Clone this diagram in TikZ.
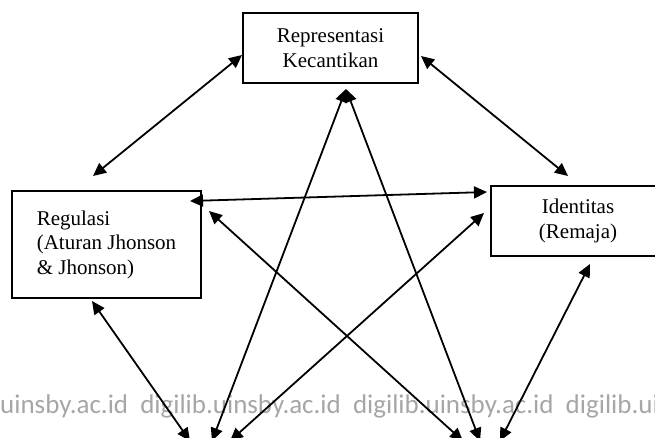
\documentclass[tikz,border=0pt]{standalone}
\usepackage{fontspec}
\setmainfont{Liberation Serif}
\newfontfamily\wmfont{Carlito}
\usepackage{xcolor}
\usepackage{tikz}
\usetikzlibrary{arrows.meta,calc}

\begin{document}
\begin{tikzpicture}[x=1pt, y=-1pt, font=\fontsize{21}{24.5}\selectfont,
  box/.style={draw=black, line width=2pt, fill=white, align=center, inner sep=0pt},
  arr/.style={{Triangle[length=13pt,width=12pt]}-{Triangle[length=13pt,width=12pt]}, line width=1.8pt},
  wm/.style={text=gray!70, font=\wmfont\fontsize{27}{30}\selectfont, inner sep=0pt}]
\useasboundingbox (0,0) rectangle (655,437);
\node[wm, anchor=base west] (wmk) at (0,413) {uinsby.ac.id\ \ digilib.uinsby.ac.id\ \ digilib.uinsby.ac.id\ \ digilib.ui};
\node[box, minimum width=175pt, minimum height=70pt] (rep) at (330.5,48) {Representasi\\Kecantikan};
\node[box, minimum width=189pt, minimum height=107pt, align=left] (reg) at (106.5,244.5) {Regulasi\\(Aturan Jhonson\\\& Jhonson)};
\node[box, minimum width=174pt, minimum height=70pt] (ide) at (578,221) {Identitas\\(Remaja)};
\coordinate (bl1) at (190,441);
\coordinate (bl2) at (212,441);
\coordinate (bl3) at (230,441);
\coordinate (br1) at (463,441);
\coordinate (br2) at (480,441);
\coordinate (br3) at (500,441);
\draw[arr] ([xshift=-13.5pt,yshift=14pt]reg.north) -- ([yshift=-7pt]rep.west);
\draw[arr] ([xshift=2pt,yshift=-8pt]rep.east) -- ([xshift=-10pt,yshift=9pt]ide.north);
\draw[arr] ([xshift=-12pt,yshift=-11pt]reg.north east) -- ([xshift=-3pt,yshift=-7pt]ide.north west);
\draw[arr] ([xshift=15.5pt,yshift=-5pt]rep.south) -- (bl2);
\draw[arr] ([xshift=15.5pt,yshift=-5pt]rep.south) -- (br2);
\draw[arr] ([xshift=-14.5pt,yshift=-2pt]reg.south) -- (bl1);
\draw[arr] ([xshift=7pt,yshift=-21pt]reg.north east) -- (br1);
\draw[arr] ([xshift=-6pt,yshift=-28pt]ide.north west) -- (bl3);
\draw[arr] ([xshift=12pt,yshift=-7pt]ide.south) -- (br3);
\end{tikzpicture}
\end{document}
